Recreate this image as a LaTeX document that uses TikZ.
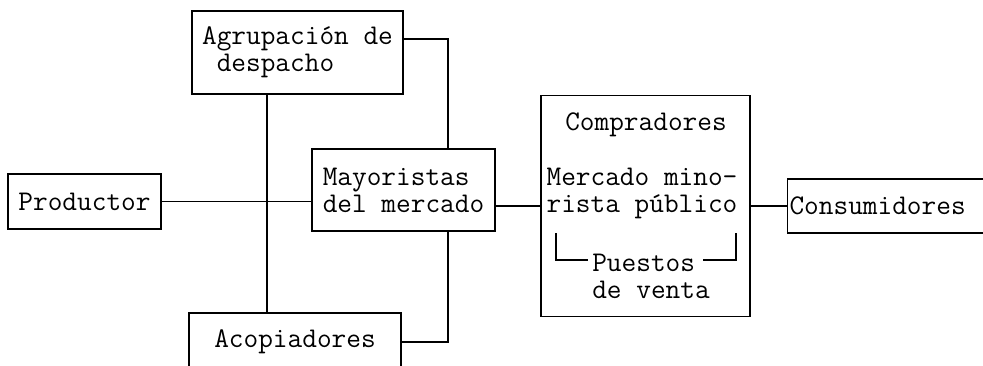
\documentclass[tikz,border=0pt]{standalone}
\newcommand\mytxt{\ttfamily\fontsize{28.5}{27}\selectfont}
\begin{document}
\begin{tikzpicture}[x=1pt,y=-1pt,
  box/.style={draw,line width=1.1pt,rectangle,inner sep=0pt,font=\mytxt},
  txt/.style={inner sep=0pt,font=\mytxt},
  conn/.style={line width=1.1pt}]
\useasboundingbox (0,0) rectangle (983,365);
\clip (0,0) rectangle (983,365);
\node[box,minimum width=153pt,minimum height=55pt] (prod) at (84.5,201.5) {Productor};
\node[box,minimum width=211pt,minimum height=83pt,align=left] (agr) at (297.5,52.5) {Agrupación de\\~despacho};
\node[box,minimum width=183pt,minimum height=82pt,align=left] (may) at (403.5,190) {Mayoristas\\del mercado};
\node[box,minimum width=212pt,minimum height=58pt] (aco) at (295,342) {Acopiadores};
\node[box,minimum width=209pt,minimum height=221pt] (comp) at (645.5,206) {};
\node[box,anchor=west,minimum height=54pt,inner xsep=2pt,text width=216pt,align=left] (cons) at (787,206) {Consumidores};
\node[txt] (ct) at (646,125) {Compradores};
\node[txt,align=left] (mm) at (642,193) {Mercado mino-\\rista público};
\node[txt,align=left] (pv) at (651,276.5) {Puestos\\de venta};
\draw[conn] (556,233) -- (556,260) -- (588,260);
\draw[conn] (703,260) -- (736,260) -- (736,233);
\coordinate (vx) at (267,0);
\coordinate (mx) at (448,0);
\coordinate (ay) at (0,39);
\draw[conn] (prod.east) -- (prod.east -| may.west);
\draw[conn] (agr.south -| vx) -- (aco.north -| vx);
\draw[conn] (agr.east |- ay) -| (may.north -| mx);
\draw[conn] (may.south -| mx) |- (aco.east);
\draw[conn] (comp.west -| may.east) -- (comp.west);
\draw[conn] (comp.east) -- (cons.west);
\end{tikzpicture}
\end{document}
